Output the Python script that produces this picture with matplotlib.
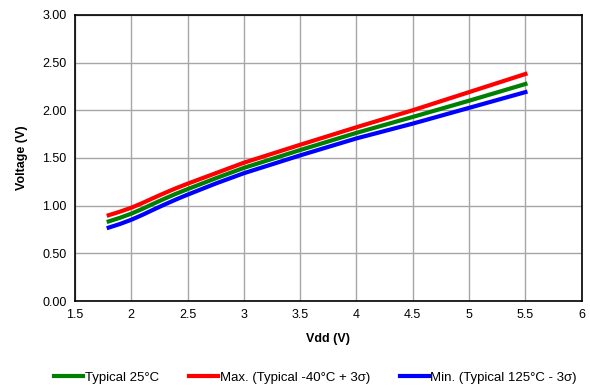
import numpy as np
import matplotlib
matplotlib.use('Agg')
import matplotlib.pyplot as plt

# -- values
vdd = [1.8, 1.9, 2.0, 2.1, 2.2, 2.3, 2.4, 2.5, 2.75, 3.0, 3.5, 4.0, 4.5, 5.0, 5.5]
v_typ = [0.835, 0.873, 0.916, 0.967, 1.022, 1.075, 1.126, 1.173, 1.287, 1.396,
         1.583, 1.763, 1.93, 2.10, 2.275]
v_max = [0.90, 0.937, 0.978, 1.028, 1.082, 1.134, 1.184, 1.23, 1.34, 1.45,
         1.638, 1.822, 2.0, 2.19, 2.38]
v_min = [0.77, 0.808, 0.852, 0.904, 0.96, 1.014, 1.066, 1.115, 1.232, 1.34,
         1.527, 1.705, 1.86, 2.025, 2.19]
labels = ['Typical 25°C', 'Max. (Typical -40°C + 3σ)', 'Min. (Typical 125°C - 3σ)']

plt.rcParams['font.family'] = ['Liberation Sans', 'DejaVu Sans']

fig = plt.figure(figsize=(5.9, 3.9), dpi=100)
ax = fig.add_axes([0.127, 0.228, 0.859, 0.734])

ax.plot(vdd, v_typ, color='#008000', lw=3, label=labels[0])
ax.plot(vdd, v_max, color='#FF0000', lw=3, label=labels[1])
ax.plot(vdd, v_min, color='#0000FF', lw=3, label=labels[2])

ax.set_xlim(1.5, 6)
ax.set_ylim(0, 3)
ax.set_xticks(np.arange(1.5, 6.01, 0.5))
ax.set_xticklabels(['1.5', '2', '2.5', '3', '3.5', '4', '4.5', '5', '5.5', '6'])
ax.set_yticks(np.arange(0, 3.01, 0.5))
ax.set_yticklabels([f'{v:.2f}' for v in np.arange(0, 3.01, 0.5)])
ax.tick_params(length=0, labelsize=9, pad=6)
ax.grid(True, color='#a6a6a6', lw=1)
ax.set_axisbelow(True)
for s in ax.spines.values():
    s.set_color('black')
    s.set_linewidth(1.2)

ax.set_xlabel('Vdd (V)', fontsize=9, fontweight='bold', labelpad=8)
ax.set_ylabel('Voltage (V)', fontsize=9, fontweight='bold', labelpad=10)

fig.legend(loc='lower center', bbox_to_anchor=(0.535, -0.015), ncol=3, frameon=False,
           fontsize=9.5, handlelength=2.2, handletextpad=0.1, columnspacing=2.3)

fig.savefig('out.png', dpi=100)
